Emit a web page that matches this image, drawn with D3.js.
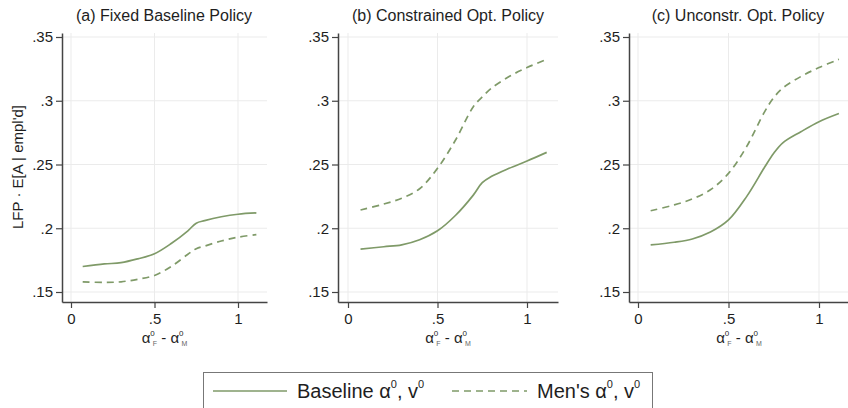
<!DOCTYPE html>
<html>
<head>
<meta charset="utf-8">
<script src="https://cdn.jsdelivr.net/npm/d3@7"></script>
<style>
  body { margin: 0; background: #fff; }
  svg { display: block; font-family: "Liberation Sans", Arial, sans-serif; }
</style>
</head>
<body>
<svg id="chart" width="848" height="408"></svg>
<script>
// values
const xs = [0.07, 0.2, 0.3, 0.4, 0.5, 0.6, 0.7, 0.75, 0.8, 0.9, 1.0, 1.11];

const baseA = [0.170, 0.172, 0.173, 0.176, 0.180, 0.188, 0.198, 0.204, 0.206, 0.209, 0.211, 0.212];
const mensA = [0.158, 0.1575, 0.158, 0.160, 0.163, 0.170, 0.1796, 0.184, 0.186, 0.190, 0.193, 0.195];

const baseB = [0.1837, 0.1855, 0.187, 0.191, 0.198, 0.210, 0.226, 0.2357, 0.2405, 0.247, 0.2527, 0.2595];
const mensB = [0.2143, 0.219, 0.2235, 0.231, 0.247, 0.269, 0.2953, 0.303, 0.3097, 0.319, 0.326, 0.3325];

const baseC = [0.1869, 0.189, 0.1916, 0.197, 0.2065, 0.2248, 0.248, 0.2588, 0.267, 0.2757, 0.2836, 0.290];
const mensC = [0.2137, 0.2183, 0.223, 0.2302, 0.243, 0.264, 0.2915, 0.3024, 0.310, 0.319, 0.326, 0.3325];

const titles = ["(a) Fixed Baseline Policy", "(b) Constrained Opt. Policy", "(c) Unconstr. Opt. Policy"];
const yTicks = [0.15, 0.2, 0.25, 0.3, 0.35];
const xTicks = [0, 0.5, 1];

const green = "#7f9a68";
const textCol = "#1e1e1e";

// layout of the three panels (pixel positions of x=0 and x=1, plot edges)
const panels = [
  { title: titles[0], base: baseA, mens: mensA, zero: 71, one: 238, left: 62, right: 267, cx: 164 },
  { title: titles[1], base: baseB, mens: mensB, zero: 348, one: 527, left: 338, right: 558, cx: 448 },
  { title: titles[2], base: baseC, mens: mensC, zero: 638, one: 819, left: 629, right: 849, cx: 738 }
];

const plotTop = 33, plotBottom = 302;
const y0 = d3.scaleLinear().domain([0.15, 0.35]).range([292, 37]);
const y = d3.scaleLinear().domain([y0.invert(plotBottom), y0.invert(plotTop)]).range([plotBottom, plotTop]);

const fmt = d => d === 0 ? "0" : d3.format("~g")(d).replace(/^0\./, ".");

const svg = d3.select("#chart");

panels.forEach((p, i) => {
  const x0 = d3.scaleLinear().domain([0, 1]).range([p.zero, p.one]);
  const x = d3.scaleLinear().domain([x0.invert(p.left), x0.invert(p.right)]).range([p.left, p.right]);
  const g = svg.append("g");

  // grid
  g.selectAll(".hg").data(yTicks).enter().append("line")
    .attr("x1", p.left).attr("x2", p.right)
    .attr("y1", d => y(d)).attr("y2", d => y(d))
    .attr("stroke", "#ebebeb").attr("stroke-width", 1);
  g.selectAll(".vg").data(xTicks).enter().append("line")
    .attr("x1", d => x(d)).attr("x2", d => x(d))
    .attr("y1", plotTop).attr("y2", plotBottom)
    .attr("stroke", "#ebebeb").attr("stroke-width", 1);

  // axes
  const ya = g.append("g").attr("transform", `translate(${p.left},0)`)
    .call(d3.axisLeft(y).tickValues(yTicks).tickFormat(fmt).tickSize(6).tickSizeOuter(0).tickPadding(3));
  const xa = g.append("g").attr("transform", `translate(0,${plotBottom})`)
    .call(d3.axisBottom(x).tickValues(xTicks).tickFormat(fmt).tickSize(6).tickSizeOuter(0).tickPadding(5));
  [ya, xa].forEach(a => {
    a.select(".domain").attr("stroke", "#444").attr("stroke-width", 1.5);
    a.selectAll(".tick line").attr("stroke", "#444").attr("stroke-width", 1.2);
    a.selectAll(".tick text").attr("fill", textCol).style("font-size", "15px")
      .style("font-family", "'Liberation Sans', Arial, sans-serif");
  });

  // lines
  const line = d3.line().x((d, j) => x(xs[j])).y(d => y(d)).curve(d3.curveCatmullRom.alpha(0.5));
  g.append("path").datum(p.base).attr("d", line)
    .attr("fill", "none").attr("stroke", green).attr("stroke-width", 1.7);
  g.append("path").datum(p.mens).attr("d", line)
    .attr("fill", "none").attr("stroke", green).attr("stroke-width", 1.7)
    .attr("stroke-dasharray", "7,5");

  // title
  g.append("text").attr("x", p.cx).attr("y", 21).attr("text-anchor", "middle")
    .attr("fill", textCol).style("font-size", "16px").text(p.title);

  // x label
  const xl = g.append("text").attr("x", (p.left + p.right) / 2).attr("y", 343)
    .attr("text-anchor", "middle").attr("fill", textCol).style("font-size", "15px");
  xl.append("tspan").text("α");
  xl.append("tspan").attr("dy", -7).style("font-size", "8px").text("0");
  xl.append("tspan").attr("dy", 10).attr("dx", -2).style("font-size", "7px").attr("fill", "#666").text("F");
  xl.append("tspan").attr("dy", -3).text(" - α");
  xl.append("tspan").attr("dy", -7).style("font-size", "8px").text("0");
  xl.append("tspan").attr("dy", 10).attr("dx", -2).style("font-size", "7px").attr("fill", "#666").text("M");
});

// y label
svg.append("text").attr("transform", "translate(23,167) rotate(-90)")
  .attr("text-anchor", "middle").attr("fill", textCol).style("font-size", "15px")
  .text("LFP · E[A | empl'd]");

// legend
const lg = svg.append("g");
lg.append("rect").attr("x", 203.5).attr("y", 372.5).attr("width", 449).attr("height", 60)
  .attr("fill", "#fff").attr("stroke", "#777").attr("stroke-width", 1);
const legendItems = [
  { name: "Baseline", x1: 213, x2: 287, tx: 297, dash: null },
  { name: "Men's", x1: 452, x2: 527, tx: 537, dash: "7,5" }
];
legendItems.forEach(it => {
  lg.append("line").attr("x1", it.x1).attr("x2", it.x2).attr("y1", 391).attr("y2", 391)
    .attr("stroke", green).attr("stroke-width", 1.7).attr("stroke-dasharray", it.dash);
  const t = lg.append("text").attr("x", it.tx).attr("y", 398).attr("fill", textCol).style("font-size", "20px");
  t.append("tspan").text(it.name + " α");
  t.append("tspan").attr("dy", -10).style("font-size", "11px").text("0");
  t.append("tspan").attr("dy", 10).text(", v");
  t.append("tspan").attr("dy", -10).style("font-size", "11px").text("0");
});
</script>
</body>
</html>
